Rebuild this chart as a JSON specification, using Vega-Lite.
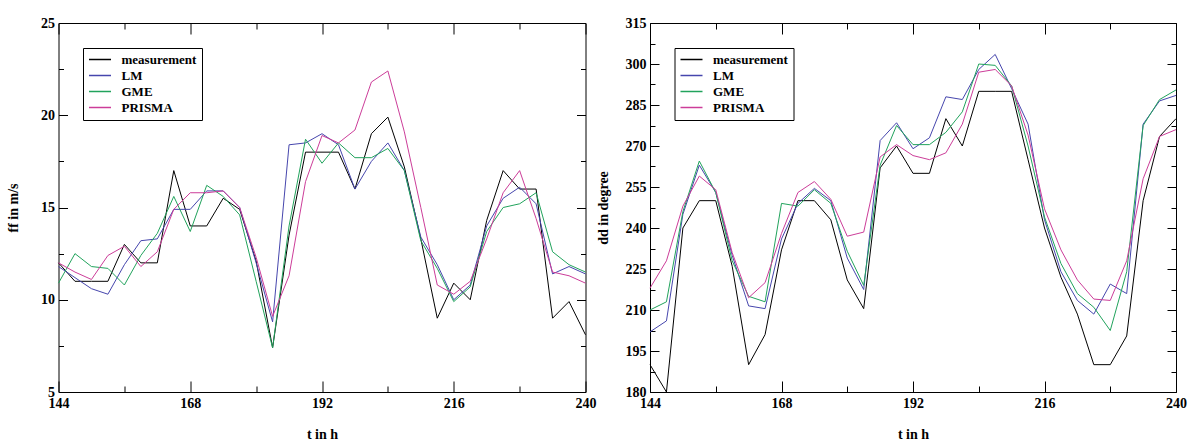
{
  "$schema": "https://vega.github.io/schema/vega-lite/v6.json",
  "background": "white",
  "padding": {"left": 5.5, "top": 15, "right": 5, "bottom": 0},
  "spacing": -1.5,
  "datasets": {
    "ff": [
      {"t":144,"measurement":12.0,"LM":11.8,"GME":10.9,"PRISMA":12.0},
      {"t":147,"measurement":11.0,"LM":11.2,"GME":12.5,"PRISMA":11.5},
      {"t":150,"measurement":11.0,"LM":10.6,"GME":11.8,"PRISMA":11.1},
      {"t":153,"measurement":11.0,"LM":10.3,"GME":11.7,"PRISMA":12.4},
      {"t":156,"measurement":13.0,"LM":11.9,"GME":10.8,"PRISMA":12.9},
      {"t":159,"measurement":12.0,"LM":13.2,"GME":12.4,"PRISMA":11.8},
      {"t":162,"measurement":12.0,"LM":13.3,"GME":13.6,"PRISMA":12.6},
      {"t":165,"measurement":17.0,"LM":14.9,"GME":15.6,"PRISMA":14.9},
      {"t":168,"measurement":14.0,"LM":14.9,"GME":13.7,"PRISMA":15.8},
      {"t":171,"measurement":14.0,"LM":15.9,"GME":16.2,"PRISMA":15.8},
      {"t":174,"measurement":15.5,"LM":15.9,"GME":15.6,"PRISMA":15.9},
      {"t":177,"measurement":14.9,"LM":15.0,"GME":14.6,"PRISMA":15.0},
      {"t":180,"measurement":12.1,"LM":12.0,"GME":11.0,"PRISMA":12.3},
      {"t":183,"measurement":7.4,"LM":8.8,"GME":7.4,"PRISMA":9.1},
      {"t":186,"measurement":13.5,"LM":18.4,"GME":14.0,"PRISMA":11.3},
      {"t":189,"measurement":18.0,"LM":18.5,"GME":18.7,"PRISMA":16.4},
      {"t":192,"measurement":18.0,"LM":19.0,"GME":17.4,"PRISMA":18.9},
      {"t":195,"measurement":18.0,"LM":18.4,"GME":18.5,"PRISMA":18.5},
      {"t":198,"measurement":16.0,"LM":16.0,"GME":17.7,"PRISMA":19.2},
      {"t":201,"measurement":19.0,"LM":17.5,"GME":17.7,"PRISMA":21.8},
      {"t":204,"measurement":19.9,"LM":18.5,"GME":18.2,"PRISMA":22.4},
      {"t":207,"measurement":17.2,"LM":17.0,"GME":17.0,"PRISMA":19.1},
      {"t":210,"measurement":13.3,"LM":13.4,"GME":13.2,"PRISMA":15.0},
      {"t":213,"measurement":9.0,"LM":11.9,"GME":11.7,"PRISMA":10.8},
      {"t":216,"measurement":10.9,"LM":10.0,"GME":9.9,"PRISMA":10.3},
      {"t":219,"measurement":10.0,"LM":10.8,"GME":10.7,"PRISMA":11.0},
      {"t":222,"measurement":14.3,"LM":14.0,"GME":13.7,"PRISMA":13.3},
      {"t":225,"measurement":17.0,"LM":15.5,"GME":15.0,"PRISMA":15.8},
      {"t":228,"measurement":16.0,"LM":16.1,"GME":15.2,"PRISMA":17.0},
      {"t":231,"measurement":16.0,"LM":15.2,"GME":15.8,"PRISMA":14.4},
      {"t":234,"measurement":9.0,"LM":11.4,"GME":12.6,"PRISMA":11.5},
      {"t":237,"measurement":9.9,"LM":11.8,"GME":11.9,"PRISMA":11.3},
      {"t":240,"measurement":8.1,"LM":11.4,"GME":11.5,"PRISMA":10.9}
    ],
    "dd": [
      {"t":144,"measurement":190,"LM":202,"GME":210,"PRISMA":218},
      {"t":147,"measurement":180,"LM":206,"GME":213,"PRISMA":228},
      {"t":150,"measurement":240,"LM":245,"GME":246,"PRISMA":248},
      {"t":153,"measurement":250,"LM":263,"GME":264.5,"PRISMA":259},
      {"t":156,"measurement":250,"LM":253,"GME":253,"PRISMA":254},
      {"t":159,"measurement":226,"LM":230,"GME":228,"PRISMA":231},
      {"t":162,"measurement":190,"LM":211.5,"GME":215,"PRISMA":214.5},
      {"t":165,"measurement":201,"LM":210.5,"GME":213,"PRISMA":220},
      {"t":168,"measurement":232,"LM":236,"GME":249,"PRISMA":238},
      {"t":171,"measurement":250,"LM":249,"GME":248,"PRISMA":253},
      {"t":174,"measurement":250,"LM":254.5,"GME":254,"PRISMA":257},
      {"t":177,"measurement":243,"LM":250,"GME":249,"PRISMA":250.5},
      {"t":180,"measurement":221,"LM":229,"GME":231.5,"PRISMA":237},
      {"t":183,"measurement":210.5,"LM":217.5,"GME":219,"PRISMA":238.5},
      {"t":186,"measurement":262,"LM":272,"GME":263,"PRISMA":266},
      {"t":189,"measurement":270,"LM":278.5,"GME":277.5,"PRISMA":270.5},
      {"t":192,"measurement":260,"LM":269,"GME":270.5,"PRISMA":266.5},
      {"t":195,"measurement":260,"LM":273,"GME":270.5,"PRISMA":265},
      {"t":198,"measurement":280,"LM":288,"GME":275,"PRISMA":267.5},
      {"t":201,"measurement":270,"LM":287,"GME":282.5,"PRISMA":278},
      {"t":204,"measurement":290,"LM":298,"GME":300,"PRISMA":297},
      {"t":207,"measurement":290,"LM":303.5,"GME":299.5,"PRISMA":298},
      {"t":210,"measurement":290,"LM":291,"GME":292,"PRISMA":292},
      {"t":213,"measurement":265,"LM":278,"GME":270,"PRISMA":274},
      {"t":216,"measurement":240,"LM":243,"GME":244,"PRISMA":247},
      {"t":219,"measurement":222,"LM":224,"GME":227,"PRISMA":232},
      {"t":222,"measurement":208.5,"LM":213.5,"GME":216,"PRISMA":221},
      {"t":225,"measurement":190,"LM":208.5,"GME":211,"PRISMA":214},
      {"t":228,"measurement":190,"LM":219.5,"GME":202.5,"PRISMA":213.5},
      {"t":231,"measurement":200.5,"LM":216,"GME":224,"PRISMA":228},
      {"t":234,"measurement":250,"LM":278,"GME":277.5,"PRISMA":258},
      {"t":237,"measurement":273.5,"LM":286.5,"GME":287,"PRISMA":273.5},
      {"t":240,"measurement":280,"LM":288.5,"GME":290.5,"PRISMA":276}
    ]
  },
  "config": {
    "view": {"stroke": "black", "strokeWidth": 1},
    "axis": {
      "labelFont": "Liberation Serif", "labelFontWeight": "bold", "labelFontSize": 14, "labelColor": "black",
      "titleFont": "Liberation Serif", "titleFontWeight": "bold", "titleFontSize": 14, "titleColor": "black",
      "tickColor": "black", "grid": false, "domain": false, "labelFlush": false, "labelOverlap": false
    },
    "legend": {
      "orient": "none", "legendX": 24.5, "legendY": 25,
      "strokeColor": "black", "fillColor": "white", "padding": 5,
      "symbolType": "M-2,0H2", "symbolSize": 121, "symbolStrokeWidth": 1.5, "symbolFillColor": "transparent",
      "symbolOffset": 5.5, "labelOffset": 15, "rowPadding": 2,
      "labelFont": "Liberation Serif", "labelFontWeight": "bold", "labelFontSize": 13, "labelColor": "black"
    }
  },
  "resolve": {"legend": {"color": "independent"}},
  "hconcat": [
    {
      "width": 527, "height": 369,
      "data": {"name": "ff"},
      "transform": [{"fold": ["measurement", "LM", "GME", "PRISMA"], "as": ["series", "v"]}],
      "layer": [
        {
          "mark": {"type": "line", "strokeWidth": 1},
          "encoding": {
            "x": {"field": "t", "type": "quantitative", "scale": {"domain": [144, 240], "nice": false, "zero": false},
                  "axis": {"orient": "bottom", "title": "t in h", "values": [144,156,168,180,192,204,216,228,240],
                           "labelExpr": "datum.value % 24 === 0 ? datum.label : ''",
                           "tickSize": {"condition": {"test": "datum.value % 24 === 0", "value": -11}, "value": -6},
                           "labelPadding": 15, "titlePadding": 12}},
            "y": {"field": "v", "type": "quantitative", "scale": {"domain": [5, 25], "nice": false, "zero": false},
                  "axis": {"orient": "left", "title": "ff in m/s", "values": [5,7.5,10,12.5,15,17.5,20,22.5,25],
                           "labelExpr": "datum.value % 5 === 0 ? datum.label : ''",
                           "tickSize": {"condition": {"test": "datum.value % 5 === 0", "value": -9}, "value": -5},
                           "labelPadding": 13, "titlePadding": 20}},
            "color": {"field": "series", "type": "nominal",
                      "scale": {"domain": ["measurement", "LM", "GME", "PRISMA"], "range": ["#000000", "#4646ad", "#21a35c", "#cc3d99"]},
                      "legend": {"title": null}}
          }
        },
        {
          "mark": {"type": "point", "opacity": 0},
          "encoding": {
            "x": {"field": "t", "type": "quantitative",
                  "axis": {"orient": "top", "title": null, "labels": false, "values": [144,156,168,180,192,204,216,228,240],
                           "tickSize": {"condition": {"test": "datum.value % 24 === 0", "value": -11}, "value": -6}}},
            "y": {"field": "v", "type": "quantitative",
                  "axis": {"orient": "right", "title": null, "labels": false, "values": [5,7.5,10,12.5,15,17.5,20,22.5,25],
                           "tickSize": {"condition": {"test": "datum.value % 5 === 0", "value": -9}, "value": -5}}}
          }
        }
      ],
      "resolve": {"axis": {"x": "independent", "y": "independent"}}
    },
    {
      "width": 526, "height": 369,
      "data": {"name": "dd"},
      "transform": [{"fold": ["measurement", "LM", "GME", "PRISMA"], "as": ["series", "v"]}],
      "layer": [
        {
          "mark": {"type": "line", "strokeWidth": 1},
          "encoding": {
            "x": {"field": "t", "type": "quantitative", "scale": {"domain": [144, 240], "nice": false, "zero": false},
                  "axis": {"orient": "bottom", "title": "t in h", "values": [144,156,168,180,192,204,216,228,240],
                           "labelExpr": "datum.value % 24 === 0 ? datum.label : ''",
                           "tickSize": {"condition": {"test": "datum.value % 24 === 0", "value": -11}, "value": -6},
                           "labelPadding": 15, "titlePadding": 12}},
            "y": {"field": "v", "type": "quantitative", "scale": {"domain": [180, 315], "nice": false, "zero": false},
                  "axis": {"orient": "left", "title": "dd in degree", "values": [180,187.5,195,202.5,210,217.5,225,232.5,240,247.5,255,262.5,270,277.5,285,292.5,300,307.5,315],
                           "labelExpr": "(datum.value - 180) % 15 === 0 ? datum.label : ''",
                           "tickSize": {"condition": {"test": "(datum.value - 180) % 15 === 0", "value": -9}, "value": -5},
                           "labelPadding": 13, "titlePadding": 15}},
            "color": {"field": "series", "type": "nominal",
                      "scale": {"domain": ["measurement", "LM", "GME", "PRISMA"], "range": ["#000000", "#4646ad", "#21a35c", "#cc3d99"]},
                      "legend": {"title": null}}
          }
        },
        {
          "mark": {"type": "point", "opacity": 0},
          "encoding": {
            "x": {"field": "t", "type": "quantitative",
                  "axis": {"orient": "top", "title": null, "labels": false, "values": [144,156,168,180,192,204,216,228,240],
                           "tickSize": {"condition": {"test": "datum.value % 24 === 0", "value": -11}, "value": -6}}},
            "y": {"field": "v", "type": "quantitative",
                  "axis": {"orient": "right", "title": null, "labels": false, "values": [180,187.5,195,202.5,210,217.5,225,232.5,240,247.5,255,262.5,270,277.5,285,292.5,300,307.5,315],
                           "tickSize": {"condition": {"test": "(datum.value - 180) % 15 === 0", "value": -9}, "value": -5}}}
          }
        }
      ],
      "resolve": {"axis": {"x": "independent", "y": "independent"}}
    }
  ]
}
